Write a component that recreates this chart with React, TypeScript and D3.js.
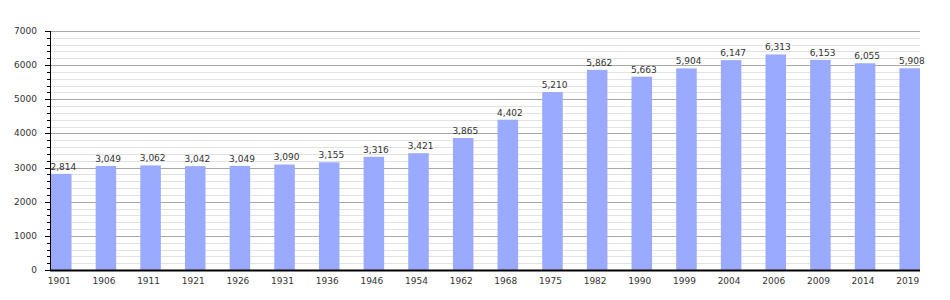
import React from "react";
import * as d3 from "d3";

const years = ["1901","1906","1911","1921","1926","1931","1936","1946","1954","1962","1968","1975","1982","1990","1999","2004","2006","2009","2014","2019"];
const population = [2814,3049,3062,3042,3049,3090,3155,3316,3421,3865,4402,5210,5862,5663,5904,6147,6313,6153,6055,5908];
const yTicks = [0,1000,2000,3000,4000,5000,6000,7000];

export default function App() {
  const W = 950, H = 300;
  const left = 50, right = 920, top = 31, bottom = 270;
  const x = d3.scaleBand<string>().domain(years).range([51, 920]).paddingInner(0.54).paddingOuter(0);
  const y = d3.scaleLinear().domain([0, 7000]).range([bottom, top]);
  const minor = d3.range(0, 7001, 200);
  const fmt = d3.format(",");
  const font = "DejaVu Sans, Verdana, sans-serif";
  return (
    <svg width={W} height={H} style={{ position: "absolute", left: 0, top: 0 }} fontFamily={font}>
      <rect width={W} height={H} fill="#fff" />
      {minor.filter(v => v % 1000 !== 0).map(v => (
        <line key={"m" + v} x1={left} x2={right} y1={Math.round(y(v)) + 0.5} y2={Math.round(y(v)) + 0.5} stroke="#e2e2e2" />
      ))}
      {yTicks.filter(v => v > 0).map(v => (
        <line key={"g" + v} x1={left} x2={right} y1={Math.round(y(v)) + 0.5} y2={Math.round(y(v)) + 0.5} stroke="#a8a8a8" />
      ))}
      {years.map((yr, i) => (
        <rect key={yr} x={x(yr)} y={y(population[i])} width={x.bandwidth()} height={bottom - y(population[i])} fill="#99aaff" />
      ))}
      {years.map((yr, i) => (
        <text key={"v" + yr} x={(x(yr) as number) - 0.5} y={y(population[i]) - 4} fontSize={9} fill="#333">{fmt(population[i])}</text>
      ))}
      {minor.map(v => (
        <line key={"t" + v} x1={v % 1000 === 0 ? 45 : 47} x2={left} y1={Math.round(y(v)) + 0.5} y2={Math.round(y(v)) + 0.5} stroke="#000" />
      ))}
      <line x1={left + 0.5} x2={left + 0.5} y1={top} y2={bottom} stroke="#000" />
      <line x1={left} x2={right} y1={bottom + 0.5} y2={bottom + 0.5} stroke="#000" strokeWidth={2} />
      {yTicks.map(v => (
        <text key={"yl" + v} x={37} y={y(v) + 3} fontSize={9} textAnchor="end" fill="#333">{v}</text>
      ))}
      {years.map(yr => (
        <text key={"xl" + yr} x={(x(yr) as number) + x.bandwidth() / 2 - 2} y={284} fontSize={9} textAnchor="middle" fill="#333">{yr}</text>
      ))}
    </svg>
  );
}
